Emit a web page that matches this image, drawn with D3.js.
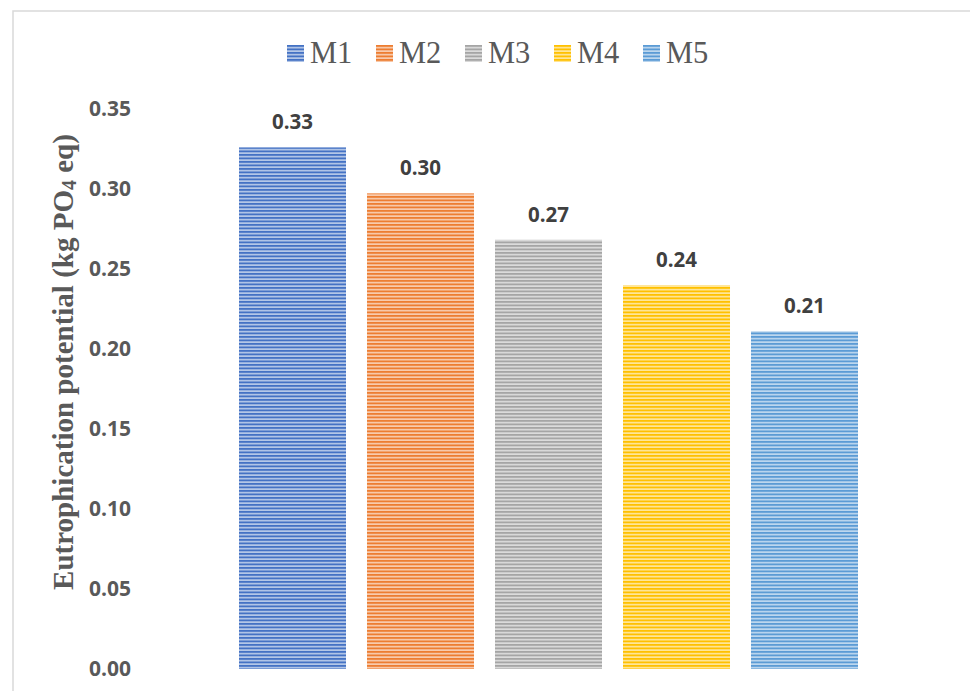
<!DOCTYPE html>
<html>
<head>
<meta charset="utf-8">
<script src="https://cdn.jsdelivr.net/npm/d3@7"></script>
<style>
  html, body {
    margin: 0;
    padding: 0;
    background: #fff;
    overflow: hidden;
  }
  .tick text {
    font-family: "Open Sans", "Liberation Sans", sans-serif;
    font-weight: bold;
    font-size: 21px;
    fill: #595959;
  }
  .label {
    font-family: "Open Sans", "Liberation Sans", sans-serif;
    font-weight: bold;
    font-size: 20.5px;
    fill: #404040;
  }
  .legend text {
    font-family: "Liberation Serif", "Times New Roman", serif;
    font-size: 30.5px;
    fill: #595959;
  }
  .ytitle {
    font-family: "Liberation Serif", "Times New Roman", serif;
    font-weight: bold;
    font-size: 29px;
    fill: #595959;
  }
</style>
</head>
<body>
<svg id="chart" width="970" height="691"></svg>
<script>
// chart values
var series = ["M1", "M2", "M3", "M4", "M5"];
var values = [0.3257, 0.297, 0.268, 0.2396, 0.2109];
var colors = ["#4472C4", "#ED7D31", "#A5A5A5", "#FFC000", "#5B9BD5"];
var yTicks = [0, 0.05, 0.10, 0.15, 0.20, 0.25, 0.30, 0.35];

var svg = d3.select("#chart");
var defs = svg.append("defs");

// striped fills, one per series
series.forEach(function (s, i) {
  var p = defs.append("pattern")
    .attr("id", "stripe" + i)
    .attr("patternUnits", "userSpaceOnUse")
    .attr("width", 8)
    .attr("height", 3.5);
  p.append("rect")
    .attr("width", 8).attr("height", 3.5)
    .attr("fill", d3.interpolateRgb("#ffffff", colors[i])(0.4));
  p.append("rect")
    .attr("width", 8).attr("height", 1.8)
    .attr("fill", colors[i]);
});

// outer frame (runs off right and bottom edge)
svg.append("rect")
  .attr("x", 13).attr("y", 11)
  .attr("width", 1000).attr("height", 720)
  .attr("fill", "none")
  .attr("stroke", "#d9d9d9")
  .attr("stroke-width", 1.5);

var x = d3.scaleBand()
  .domain(series)
  .range([175, 922])
  .paddingInner(0.164)
  .paddingOuter(0.5);

var y = d3.scaleLinear()
  .domain([0, 0.35])
  .range([669, 108.5]);

var yAxis = d3.axisLeft(y)
  .tickValues(yTicks)
  .tickFormat(d3.format(".2f"))
  .tickSize(0)
  .tickPadding(0);

svg.append("g")
  .attr("class", "y axis")
  .attr("transform", "translate(131,0)")
  .call(yAxis)
  .call(function (g) { g.select(".domain").remove(); });

// bars
svg.append("g").selectAll("rect")
  .data(values)
  .enter().append("rect")
  .attr("x", function (d, i) { return x(series[i]); })
  .attr("y", function (d) { return y(d); })
  .attr("width", x.bandwidth())
  .attr("height", function (d) { return y(0) - y(d); })
  .attr("fill", function (d, i) { return "url(#stripe" + i + ")"; });

// value labels
svg.append("g").selectAll("text")
  .data(values)
  .enter().append("text")
  .attr("class", "label")
  .attr("x", function (d, i) { return x(series[i]) + x.bandwidth() / 2; })
  .attr("y", function (d) { return y(d) - 18; })
  .attr("text-anchor", "middle")
  .text(function (d) { return d3.format(".2f")(d); });

// legend
var legend = svg.append("g")
  .attr("class", "legend")
  .attr("transform", "translate(287,45)");

var item = legend.selectAll("g")
  .data(series)
  .enter().append("g")
  .attr("transform", function (d, i) { return "translate(" + (i * 89) + ",0)"; });

item.append("rect")
  .attr("width", 17).attr("height", 17)
  .attr("fill", function (d, i) { return "url(#stripe" + i + ")"; });

item.append("text")
  .attr("x", 23)
  .attr("y", 18)
  .text(function (d) { return d; });

// y axis title
var title = svg.append("text")
  .attr("class", "ytitle")
  .attr("transform", "translate(73,362) rotate(-90)")
  .attr("text-anchor", "middle");
title.append("tspan").text("Eutrophication potential (kg PO");
title.append("tspan").attr("font-size", "20px").attr("dy", 3).text("4");
title.append("tspan").attr("dy", -3).text(" eq)");
</script>
</body>
</html>
